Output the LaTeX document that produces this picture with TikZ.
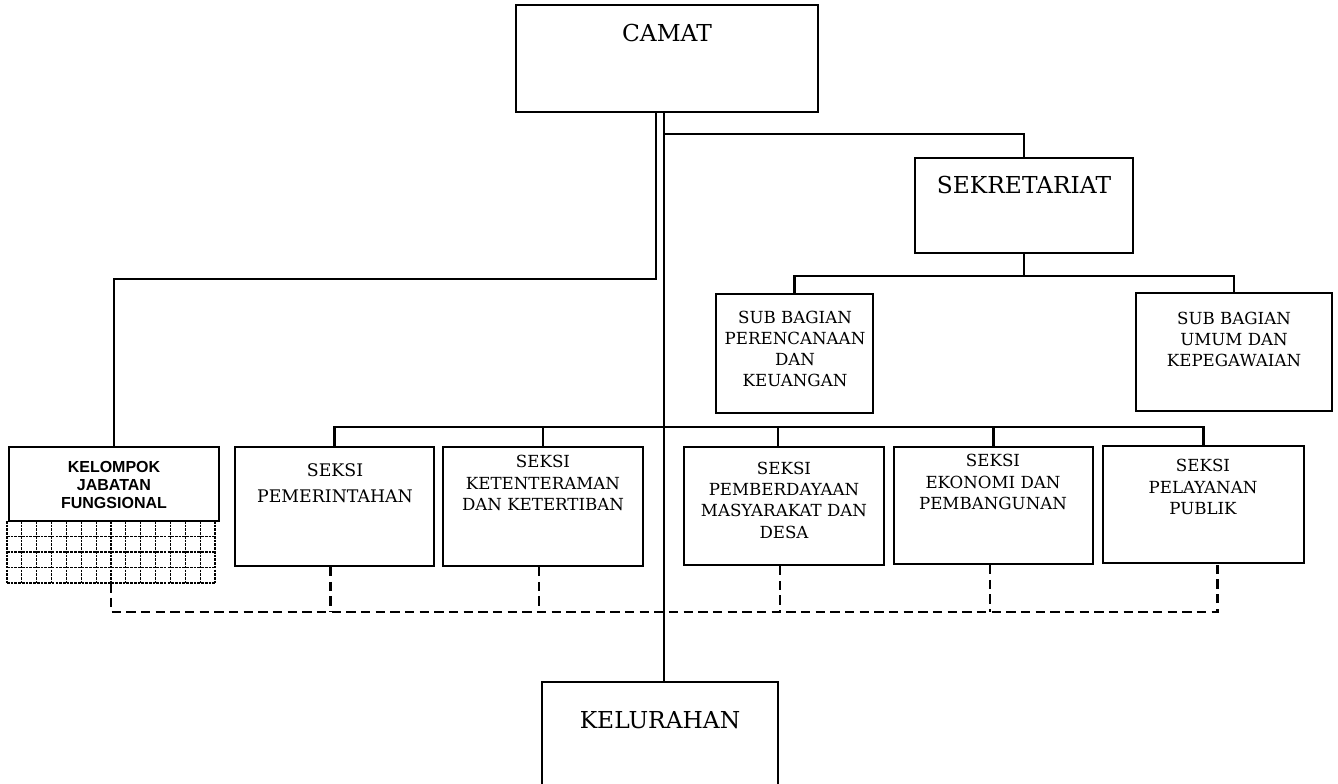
\documentclass[tikz,border=0pt]{standalone}
\usepackage{fontspec}
\setmainfont{DejaVu Serif}
\newfontfamily\kjffont{Liberation Sans}
\usetikzlibrary{fit,calc}
\begin{document}
\begin{tikzpicture}[x=0.75pt,y=-0.75pt,
  box/.style={draw, line width=1.7pt, inner sep=0pt},
  conn/.style={line width=1.6pt},
  dline/.style={line width=1.6pt, dash pattern=on 7pt off 4pt},
  gridline/.style={line width=0.8pt, dash pattern=on 2pt off 0.8pt},
  big/.style={inner sep=0pt, align=center, font=\fontsize{17.5}{20}\selectfont},
  lbl/.style={inner sep=0pt, align=center, font=\fontsize{12.5}{16}\selectfont},
  lblsub/.style={inner sep=0pt, align=center, font=\fontsize{12.5}{15.75}\selectfont},
  lblpem/.style={inner sep=0pt, align=center, font=\fontsize{13}{19.5}\selectfont},
  kjf/.style={inner sep=0pt, align=center, font=\kjffont\bfseries\fontsize{12}{13.5}\selectfont}]
\useasboundingbox (0,0) rectangle (1338,783);

% boxes
\node[box, fit={(516,5) (818,112)}] (camat) {};
\node[box, fit={(915,158) (1133,253)}] (sek) {};
\node[box, fit={(716,294) (873,413)}] (sbp) {};
\node[box, fit={(1136,293) (1332,411)}] (sbu) {};
\node[box, fit={(9,447) (219,521)}] (kjf) {};
\node[inner sep=0pt, fit={(7,521) (215,583)}] (grid) {};
\node[box, fit={(235,447) (434,566)}] (pem) {};
\node[box, fit={(443,447) (643,566)}] (ket) {};
\node[box, fit={(684,447) (884,565)}] (pmb) {};
\node[box, fit={(894,447) (1093,564)}] (eko) {};
\node[box, fit={(1103,446) (1304,563)}] (pel) {};
\node[box, fit={(542,682) (778,795)}] (kel) {};

% texts
\node[big] (camat-t) at (667,33) {CAMAT};
\node[big] (sek-t) at (1024,185) {SEKRETARIAT};
\node[big] (kel-t) at (660,720) {KELURAHAN};
\node[lblsub] (sbp-t) at (795,349) {SUB BAGIAN\\PERENCANAAN\\DAN\\KEUANGAN};
\node[lblsub] (sbu-t) at (1234,339) {SUB BAGIAN\\UMUM DAN\\KEPEGAWAIAN};
\node[kjf] (kjf-t) at (114,485) {KELOMPOK\\JABATAN\\FUNGSIONAL};
\node[lblpem] (pem-t) at (335,483) {SEKSI\\PEMERINTAHAN};
\node[lbl] (ket-t) at (543,483) {SEKSI\\KETENTERAMAN\\DAN KETERTIBAN};
\node[lbl] (pmb-t) at (784,500) {SEKSI\\PEMBERDAYAAN\\MASYARAKAT DAN\\DESA};
\node[lbl] (eko-t) at (993,482) {SEKSI\\EKONOMI DAN\\PEMBANGUNAN};
\node[lbl] (pel-t) at (1203,487) {SEKSI\\PELAYANAN\\PUBLIK};

% grid under KELOMPOK JABATAN FUNGSIONAL
\foreach \i in {0,...,14} {
  \draw[gridline] ({7+\i*208/14},521) -- ({7+\i*208/14},583);
}
\foreach \j in {1,...,4} {
  \draw[gridline] (7,{521+\j*15.5}) -- (215,{521+\j*15.5});
}

% junction coordinates
\coordinate (spine) at (664,0);
\coordinate (lft) at (656,279);
\coordinate (rt) at (664,134);
\coordinate (sy) at (0,276);
\coordinate (sh) at (0,427);
\coordinate (dl) at (0,612);

% solid connectors
\draw[conn] (camat.south -| spine) -- (kel.north -| spine);
\draw[conn] (camat.south -| lft) -- (lft) -| (kjf.north);
\draw[conn] (rt) -| (sek.north);
\draw[conn] (sek.south) -- (sek.south |- sy);
\draw[conn] (sbp.north) -- (sbp.north |- sy) -- (sbu.north |- sy) -- (sbu.north);
\draw[conn] (pem.north) -- (pem.north |- sh) -- (pel.north |- sh) -- (pel.north);
\draw[conn] (ket.north) -- (ket.north |- sh);
\draw[conn] ([xshift=-4.5pt]pmb.north) -- ([xshift=-4.5pt]pmb.north |- sh);
\draw[conn] (eko.north) -- (eko.north |- sh);

% dashed connectors
\coordinate (peld) at ([xshift=10.5pt]pel.south);
\draw[dline] (grid.south) -- (grid.south |- dl) -- (peld |- dl) -- (peld);
\draw[dline] ([xshift=-3pt]pem.south) -- ([xshift=-3pt]pem.south |- dl);
\draw[dline] ([xshift=-3pt]ket.south) -- ([xshift=-3pt]ket.south |- dl);
\draw[dline] ([xshift=-3pt]pmb.south) -- ([xshift=-3pt]pmb.south |- dl);
\draw[dline] ([xshift=-2.5pt]eko.south) -- ([xshift=-2.5pt]eko.south |- dl);
\end{tikzpicture}
\end{document}
